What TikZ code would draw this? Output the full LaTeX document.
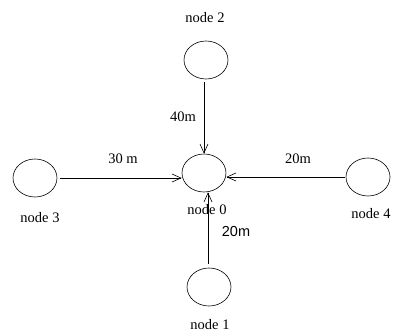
\documentclass[tikz,border=0pt]{standalone}
\usepackage{fontspec}
\setmainfont{Liberation Serif}
\newfontfamily\labelsans{Liberation Sans}
\usetikzlibrary{shapes.geometric,arrows.meta}
\begin{document}
\begin{tikzpicture}[x=1pt,y=1pt,
  station/.style={draw,ellipse,minimum width=44pt,minimum height=38pt,inner sep=0pt,line width=0.6pt},
  link/.style={line width=0.6pt,-{Straight Barb[length=9pt,width=8pt,line width=0.6pt]}},
  tag/.style={font=\fontsize{14.5}{16}\selectfont,inner sep=0pt},
  dist/.style={font=\fontsize{14.5}{16}\selectfont,inner sep=0pt}]
\useasboundingbox (0,0) rectangle (393,332);
% stations
\node[station] (n0) at (204,159) {};
\node[station] (n1) at (209,45) {};
\node[station] (n2) at (206,272) {};
\node[station] (n3) at (35,154) {};
\node[station] (n4) at (368,155) {};
% station names
\node[tag] (l0) at (207,122) {node 0};
\node[tag] (l1) at (210,7) {node 1};
\node[tag] (l2) at (205,314) {node 2};
\node[tag] (l3) at (40,114) {node 3};
\node[tag] (l4) at (371,118) {node 4};
% links into node 0
\coordinate (s3) at ([xshift=3pt]n3.east);
\draw[link] (s3) -- (s3 -| n0.west);
\coordinate (s4) at ([xshift=-1pt]n4.west);
\draw[link] (s4) -- (s4 -| n0.east);
\coordinate (s2) at ([yshift=-3pt]n2.south -| n0.north);
\draw[link] (s2) -- (n0.north);
\coordinate (s1) at ([xshift=-1pt,yshift=4pt]n1.north);
\draw[link] (s1) -- (s1 |- n0.south);
% distances
\node[dist] (d3) at (123,173) {30 m};
\node[dist] (d4) at (298,173) {20m};
\node[dist] (d2) at (183,215) {40m};
\node[dist,font=\labelsans\fontsize{14.5}{16}\selectfont] (d1) at (236,100) {20m};
\end{tikzpicture}
\end{document}
